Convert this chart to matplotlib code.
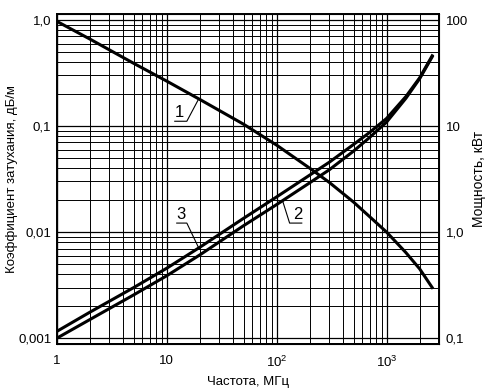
import numpy as np
import matplotlib
matplotlib.use('Agg')
from matplotlib import pyplot as plt
from matplotlib.ticker import LogLocator, NullFormatter, FixedLocator, FixedFormatter

plt.rcParams['font.family'] = ['Liberation Sans', 'DejaVu Sans']
plt.rcParams['mathtext.fontset'] = 'custom'
plt.rcParams['mathtext.rm'] = 'Liberation Sans'

# частота, МГц
freq = [1, 2, 5, 10, 20, 50, 100, 200, 300, 500, 700, 1000, 1500, 2000, 2600]
# 1 - мощность, кВт
power_kw = [97, 66, 39, 26.5, 17.8, 10.4, 6.6, 4.0, 2.95, 1.92, 1.40, 1.0, 0.64, 0.45, 0.30]
# 2, 3 - коэффициент затухания, дБ/м
atten_2 = [0.00100, 0.00150, 0.00256, 0.00388, 0.0061, 0.0115, 0.0182, 0.0292, 0.0386, 0.058, 0.078, 0.109, 0.183, 0.28, 0.45]
atten_3 = [0.00116, 0.00176, 0.0030, 0.00457, 0.0072, 0.0135, 0.0215, 0.0345, 0.0455, 0.067, 0.087, 0.118, 0.19, 0.285, 0.46]

x_ticks = [1, 10, 100, 1000]
x_labels = ['1', '10', r'$\mathregular{10^2}$', r'$\mathregular{10^3}$']
yl_ticks = [0.001, 0.01, 0.1, 1]
yl_labels = ['0,001', '0,01', '0,1', '1,0']
yr_ticks = [0.1, 1, 10, 100]
yr_labels = ['0,1', '1,0', '10', '100']

fig = plt.figure(figsize=(4.9, 3.92), dpi=100)
ax = fig.add_axes([57/490, 1-344/392, 382/490, 330/392])
ax.set_xscale('log'); ax.set_yscale('log')
ax.set_xlim(1, 3000)
ax.set_ylim(0.00088, 1.14)

ax.xaxis.set_major_locator(FixedLocator(x_ticks))
ax.xaxis.set_major_formatter(FixedFormatter(x_labels))
ax.yaxis.set_major_locator(FixedLocator(yl_ticks))
ax.yaxis.set_major_formatter(FixedFormatter(yl_labels))
for a in (ax.xaxis, ax.yaxis):
    a.set_minor_locator(LogLocator(base=10, subs=range(2, 10), numticks=20))
    a.set_minor_formatter(NullFormatter())
ax.grid(True, which='major', color='black', lw=0.9)
ax.grid(True, which='minor', color='black', lw=0.7)
ax.tick_params(which='both', length=0, labelsize=9.5)
ax.tick_params(axis='x', pad=8)
ax.tick_params(axis='y', pad=4)
for s in ax.spines.values():
    s.set_linewidth(1.4)

ax.plot(freq, atten_2, color='black', lw=2.2)
ax.plot(freq, atten_3, color='black', lw=2.2)

ax2 = ax.twinx()
ax2.set_yscale('log')
ax2.set_ylim(0.088, 114)
ax2.yaxis.set_major_locator(FixedLocator(yr_ticks))
ax2.yaxis.set_major_formatter(FixedFormatter(yr_labels))
ax2.yaxis.set_minor_formatter(NullFormatter())
ax2.tick_params(which='both', length=0, labelsize=9.5, pad=5)
ax2.plot(freq, power_kw, color='black', lw=2.2)

def on_curve(f, values):
    return 10 ** np.interp(np.log10(f), np.log10(freq), np.log10(values))

# выноски
ax2.text(13.1, 13.3, '1', fontsize=12, ha='center', va='center')
ax2.plot([11.8, 15.2, 19.5], [11.1, 11.1, on_curve(19.5, power_kw)], color='black', lw=0.8)
ax.text(13.4, 0.0145, '3', fontsize=12, ha='center', va='center')
ax.plot([12.3, 15.2, 19.5], [0.01216, 0.01216, on_curve(19.5, atten_3)], color='black', lw=0.8)
ax.text(155, 0.0145, '2', fontsize=12, ha='center', va='center')
ax.plot([169, 131, 113], [0.01216, 0.01216, on_curve(113, atten_2)], color='black', lw=0.8)

ax.set_xlabel('Частота, МГц', fontsize=9.5, labelpad=4)
ax.set_ylabel('Коэффициент затухания, дБ/м', fontsize=9.5, labelpad=0)
ax2.set_ylabel('Мощность, кВт', fontsize=10, labelpad=3)

fig.savefig('out.png', dpi=100)
